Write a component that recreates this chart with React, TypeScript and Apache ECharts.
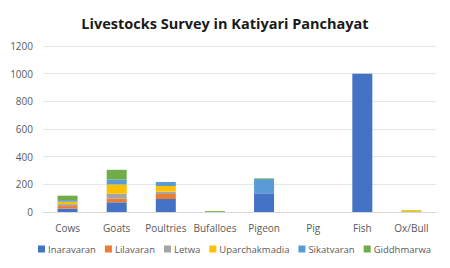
import React, { useEffect, useRef } from "react";
import * as echarts from "echarts";

const categories = ["Cows", "Goats", "Poultries", "Bufalloes", "Pigeon", "Pig", "Fish", "Ox/Bull"];
const seriesNames = ["Inaravaran", "Lilavaran", "Letwa", "Uparchakmadia", "Sikatvaran", "Giddhmarwa"];
const inaravaran = [25, 70, 94, 0, 135, 0, 1000, 0];
const lilavaran = [18, 26, 36, 0, 0, 0, 0, 0];
const letwa = [14, 36, 17, 0, 0, 0, 0, 0];
const uparchakmadia = [17, 67, 41, 0, 0, 0, 0, 10];
const sikatvaran = [12, 36, 29, 0, 103, 0, 0, 0];
const giddhmarwa = [32, 70, 0, 6, 5, 0, 0, 3];
const yTicks = [0, 200, 400, 600, 800, 1000, 1200];
const colors = ["#4472C4", "#ED7D31", "#A5A5A5", "#FFC000", "#5B9BD5", "#70AD47"];

export default function App() {
  const ref = useRef<HTMLDivElement>(null);
  useEffect(() => {
    const chart = echarts.init(ref.current!, null, { renderer: "svg" });
    const data = [inaravaran, lilavaran, letwa, uparchakmadia, sikatvaran, giddhmarwa];
    chart.setOption({
      animation: false,
      color: colors,
      title: {
        text: "Livestocks Survey in Katiyari Panchayat",
        left: "center",
        top: 11,
        textStyle: { fontFamily: "Open Sans", fontWeight: "bold", fontSize: 14.5, color: "#1a1a1a" },
      },
      grid: { left: 43, right: 14, top: 46, bottom: 56 },
      legend: {
        bottom: 9,
        left: 33,
        itemWidth: 7,
        itemHeight: 7,
        itemGap: 9,
        icon: "rect",
        textStyle: { fontFamily: "Open Sans", fontSize: 9.5, color: "#595959", padding: [0, 0, 0, -2] },
        data: seriesNames,
      },
      xAxis: {
        type: "category",
        data: categories,
        axisLine: { lineStyle: { color: "#d9d9d9" } },
        axisTick: { show: false },
        axisLabel: { interval: 0, fontFamily: "Open Sans", fontSize: 10, color: "#595959", margin: 11 },
      },
      yAxis: {
        type: "value",
        min: yTicks[0],
        max: yTicks[yTicks.length - 1],
        interval: 200,
        axisLine: { show: false },
        axisTick: { show: false },
        splitLine: { lineStyle: { color: "#e6e6e6" } },
        axisLabel: { fontFamily: "Open Sans", fontSize: 10, color: "#595959", margin: 10, formatter: (v: number) => String(v) },
      },
      series: seriesNames.map((name, i) => ({
        name,
        type: "bar",
        stack: "total",
        barWidth: 20,
        data: data[i],
      })),
    });
    return () => chart.dispose();
  }, []);
  return <div ref={ref} style={{ width: 450, height: 268, position: "absolute", left: 0, top: 0 }} />;
}
